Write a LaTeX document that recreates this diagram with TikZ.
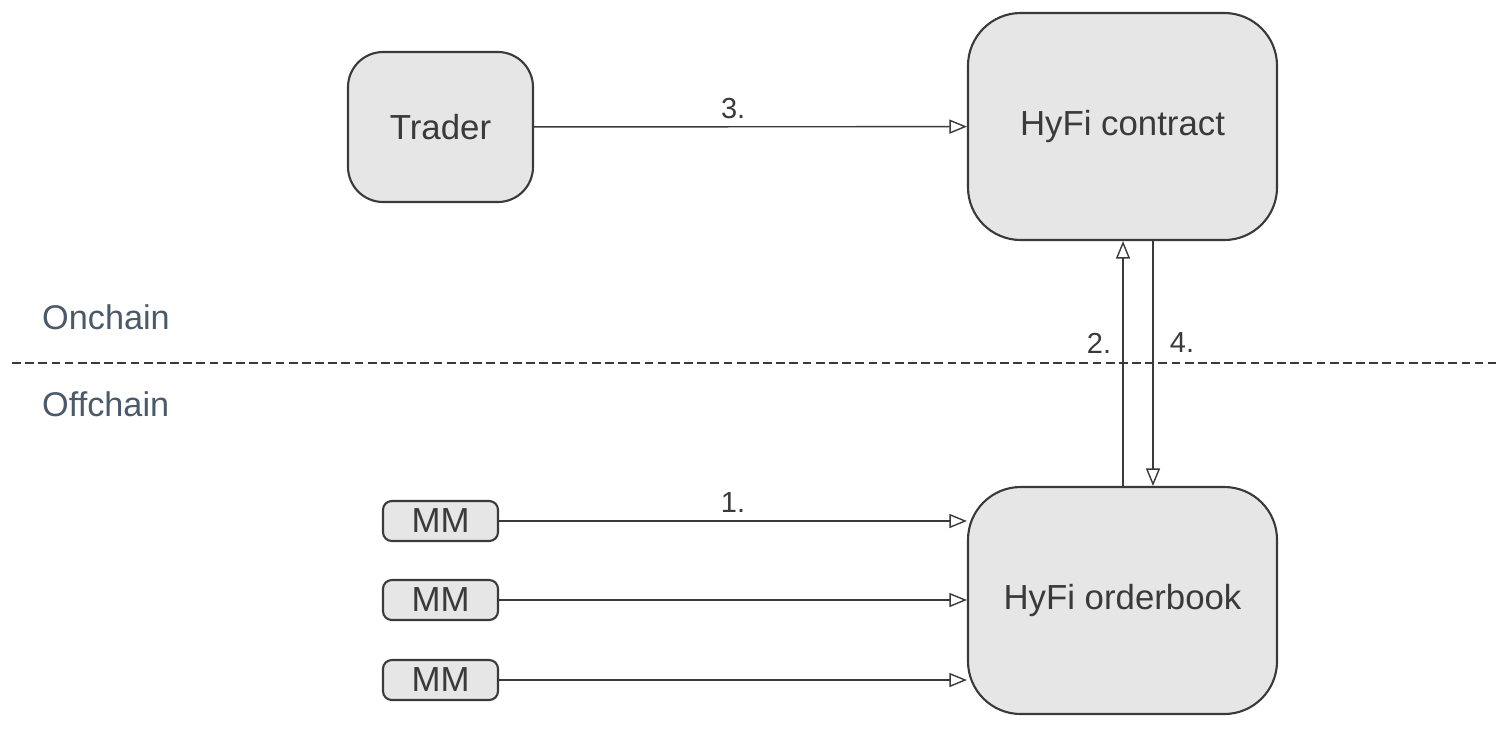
\documentclass[tikz,border=0pt]{standalone}
\usepackage{fontspec}
\setmainfont{Liberation Sans}
\usetikzlibrary{arrows.meta}
\definecolor{boxfill}{HTML}{E6E6E6}
\definecolor{boxline}{HTML}{3A3A3A}
\definecolor{zonetext}{HTML}{4A5A6A}
\tikzset{
  block/.style={draw=boxline,fill=boxfill,line width=1.2pt,text=boxline,font=\fontsize{19.8}{23}\selectfont},
  flow/.style={draw=boxline,line width=0.8pt,-{Triangle[open,length=10pt,width=8pt]}},
  steplabel/.style={font=\fontsize{16.5}{19}\selectfont,text=boxline},
  zone/.style={anchor=west,font=\fontsize{19.5}{22}\selectfont,text=zonetext}
}
\begin{document}
\begin{tikzpicture}[x=0.02cm,y=-0.02cm]

        % Background
        \useasboundingbox (0,0) rectangle (1496,728);

        % Blocks
        \node[block,rounded corners=20,minimum width=185*0.02cm,minimum height=150*0.02cm] (trader) at (440.5,127) {Trader};
        \node[block,rounded corners=30,minimum width=309*0.02cm,minimum height=227*0.02cm] (contract) at (1122.5,126.5) {HyFi contract};
        \node[block,rounded corners=30,minimum width=309*0.02cm,minimum height=227*0.02cm] (book) at (1122.5,600.5) {HyFi orderbook};
        \foreach \name/\y in {mma/521,mmb/600,mmc/680} {
            \node[block,rounded corners=5,minimum width=115*0.02cm,minimum height=40*0.02cm] (\name) at (440.5,\y) {MM};
        }

        % Zones
        \draw[boxline,line width=0.8pt,dash pattern=on 5pt off 2.5pt] (12,363) -- (1496,363);
        \node[zone] (on) at (36,317) {Onchain};
        \node[zone] (off) at (36,404) {Offchain};

        % Flows
        \draw[flow] (trader) -- node[steplabel,above=1pt,pos=0.46] {3.} (contract);
        \draw[flow] (book.north -| 1123,0) -- (contract.south -| 1123,0);
        \draw[flow] (contract.south -| 1153,0) -- (book.north -| 1153,0);
        \node[steplabel] (two) at (1099,343) {2.};
        \node[steplabel] (four) at (1182,343) {4.};
        \draw[flow] (mma.east) -- node[steplabel,above=1pt,pos=0.5] {1.} (mma.east -| book.west);
        \draw[flow] (mmb.east) -- (mmb.east -| book.west);
        \draw[flow] (mmc.east) -- (mmc.east -| book.west);

    \end{tikzpicture}
\end{document}
